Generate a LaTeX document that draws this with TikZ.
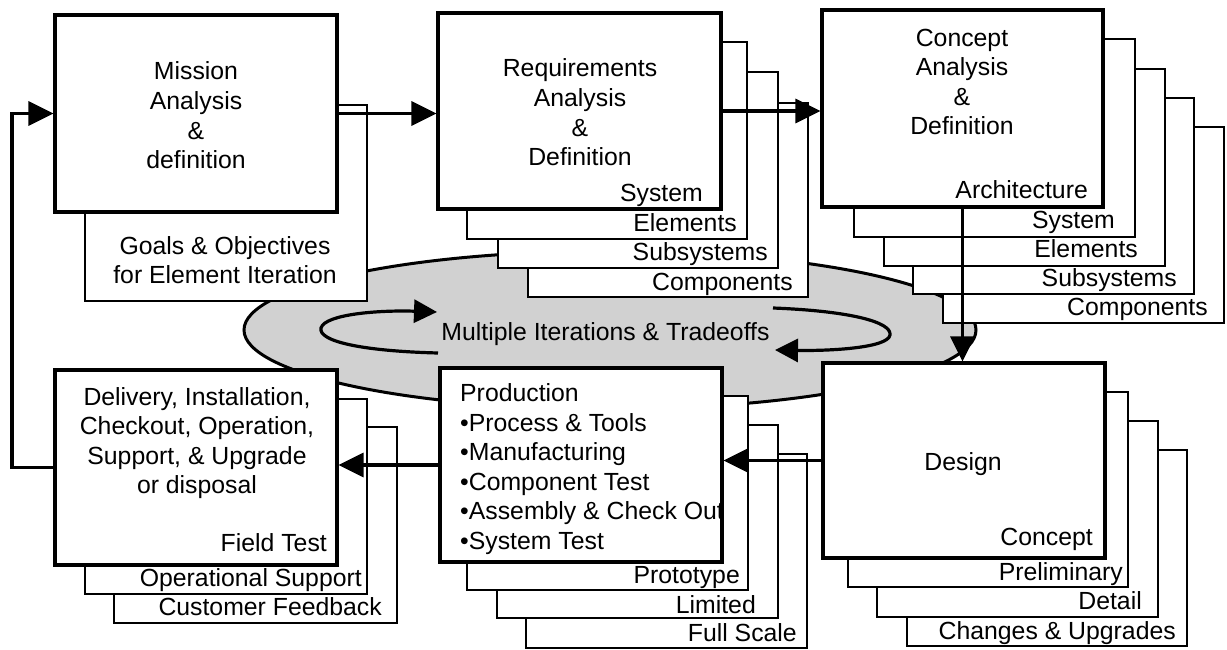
\documentclass[tikz,border=0pt]{standalone}
\usepackage{fontspec}
\setmainfont{Liberation Sans}
\usetikzlibrary{arrows.meta,fit,shapes.geometric}
\definecolor{haze}{gray}{0.82}

\begin{document}
\begin{tikzpicture}[x=1pt,y=-1pt,
  every node/.style={font=\fontsize{24.8}{29.6}\selectfont, inner sep=0pt},
  mainbox/.style={draw, fill=white, line width=3.2pt, inner sep=0pt},
  layerbox/.style={draw, fill=white, line width=1.5pt, inner sep=0pt},
  tag/.style={anchor=base east},
  flow/.style={line width=3.3pt, -{Triangle[length=25pt,width=24pt]}},
  loopline/.style={line width=3.2pt, -{Triangle[length=23pt,width=23pt]}},
]
\fill[white] (0,0) rectangle (1227,650);
\useasboundingbox (0,0) rectangle (1227,650);

% central iteration ellipse
\node[ellipse, draw, fill=haze, line width=3pt, minimum width=732pt, minimum height=158pt] (iter) at (610,330) {};
\node[anchor=base] (itertxt) at (605.5,340) {Multiple Iterations \& Tradeoffs};
\draw[loopline] (438,353) .. controls (360,351) and (318,341) .. (321,328)
                          .. controls (325,314) and (380,310) .. (437,312);
\draw[loopline] (773,308) .. controls (850,311) and (892,322) .. (890,335)
                          .. controls (888,348) and (830,351) .. (775,350);

% mission analysis
\node[layerbox, fit={(85,105) (367,301)}] (goals) {};
\node[mainbox, fit={(55,15) (337,212)}] (mission) {};
\node[align=center] (missiontxt) at (196,115.5) {Mission\\Analysis\\\&\\definition};
\node[align=center] (goalstxt) at (225,260) {Goals \& Objectives\\for Element Iteration};

% requirements analysis stack
\node[layerbox, fit={(528,103) (808,297)}] (req3) {};
\node[layerbox, fit={(498,72) (778,268)}] (req2) {};
\node[layerbox, fit={(467,42) (747,239)}] (req1) {};
\node[mainbox, fit={(438,13) (721,209)}] (req) {};
\node[align=center] (reqtxt) at (580,112.5) {Requirements\\Analysis\\\&\\Definition};
\node[tag] (reqa) at (703,201.6) {System};
\node[tag] (reqb) at (737,231.6) {Elements};
\node[tag] (reqc) at (768,260.6) {Subsystems};
\node[tag] (reqd) at (793,290.6) {Components};

% concept analysis stack
\node[layerbox, fit={(943,127) (1224,323)}] (con4) {};
\node[layerbox, fit={(913,98) (1194,294)}] (con3) {};
\node[layerbox, fit={(884,69) (1165,266)}] (con2) {};
\node[layerbox, fit={(854,39) (1135,237)}] (con1) {};
\node[mainbox, fit={(822,10) (1103,207)}] (concept) {};
\node[align=center] (concepttxt) at (962,82) {Concept\\Analysis\\\&\\Definition};
\node[tag] (cona) at (1088,198.6) {Architecture};
\node[tag] (conb) at (1115,228.6) {System};
\node[tag] (conc) at (1138,257.6) {Elements};
\node[tag] (cond) at (1177,286.6) {Subsystems};
\node[tag] (cone) at (1208,315.6) {Components};

% design stack
\node[layerbox, fit={(907,450) (1187,646)}] (des3) {};
\node[layerbox, fit={(877,421) (1158,617)}] (des2) {};
\node[layerbox, fit={(848,392) (1128,587)}] (des1) {};
\node[mainbox, fit={(823,363) (1105,558)}] (design) {};
\node[anchor=base] (designtxt) at (963,470.6) {Design};
\node[tag] (desa) at (1093,545.6) {Concept};
\node[tag] (desb) at (1123,580.6) {Preliminary};
\node[tag] (desc) at (1142,609.6) {Detail};
\node[tag] (desd) at (1176,639.6) {Changes \& Upgrades};

% production stack
\node[layerbox, fit={(526,454) (807,648)}] (prod3) {};
\node[layerbox, fit={(497,425) (778,618)}] (prod2) {};
\node[layerbox, fit={(467,396) (748,590)}] (prod1) {};
\node[mainbox, fit={(440,368) (722,562)}] (prod) {};
\node[align=left, anchor=west] (prodtxt) at (460,469)
  {Production\\•Process \& Tools\\•Manufacturing\\•Component Test\\•Assembly \& Check Out\\•System Test};
\node[tag] (proda) at (740,583.6) {Prototype};
\node[tag] (prodb) at (756,613.6) {Limited};
\node[tag] (prodc) at (797,641.6) {Full Scale};

% delivery stack
\node[layerbox, fit={(114,427) (397,623)}] (del2) {};
\node[layerbox, fit={(85,399) (367,594)}] (del1) {};
\node[mainbox, fit={(55,370) (337,565)}] (deliv) {};
\node[align=center] (delivtxt) at (197,443)
  {Delivery, Installation,\\Checkout, Operation,\\Support, \& Upgrade\\or disposal};
\node[tag] (dela) at (327,551.6) {Field Test};
\node[tag] (delb) at (362,586.6) {Operational Support};
\node[tag] (delc) at (382,615.6) {Customer Feedback};

% process flow
\coordinate (fbturn) at (12,300);
\draw[flow] (mission.east) -- (mission.east -| req.west);
\draw[flow] (req.east) -- (req.east -| concept.west);
\draw[flow] (concept.south) -- (concept.south |- design.north);
\draw[flow] (design.west) -- (design.west -| prod.east);
\draw[flow] (prod.west) -- (prod.west -| deliv.east);
\draw[flow] (deliv.west) -| (fbturn) |- (mission.west);
\end{tikzpicture}
\end{document}
